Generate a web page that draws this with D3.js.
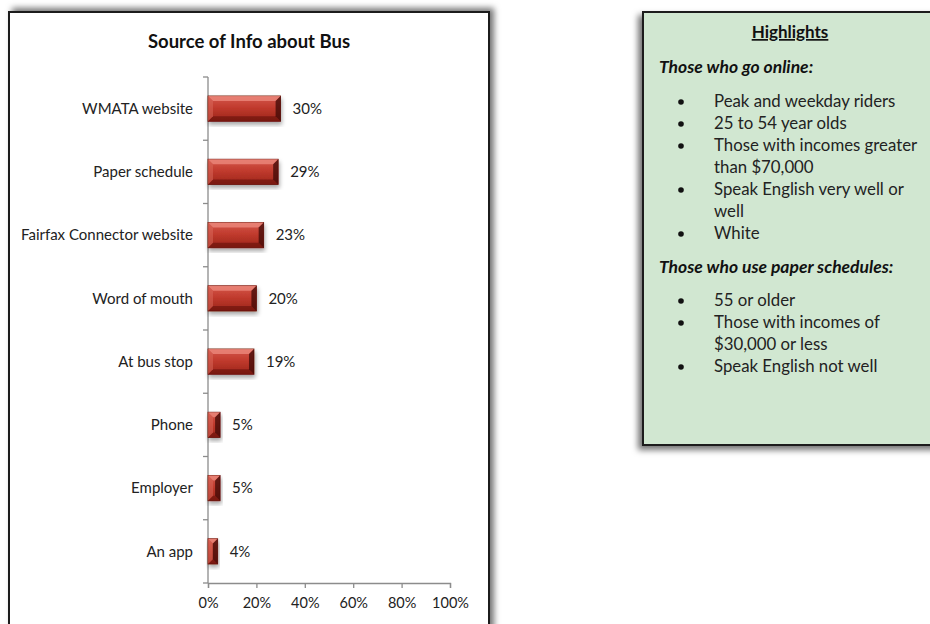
<!DOCTYPE html>
<html>
<head>
<meta charset="utf-8">
<script src="https://cdn.jsdelivr.net/npm/d3@7"></script>
<style>
  html, body { margin: 0; padding: 0; background: #fff; }
  svg { display: block; font-family: Lato, "Open Sans", sans-serif; }
</style>
</head>
<body>
<svg id="chart" width="930" height="624"></svg>
<script>
// Survey results: where riders get information about the bus
const categories = ["WMATA website", "Paper schedule", "Fairfax Connector website",
                    "Word of mouth", "At bus stop", "Phone", "Employer", "An app"];
const shares = [30, 29, 23, 20, 19, 5, 5, 4];
const xTicks = [0, 20, 40, 60, 80, 100];

const onlineNotes = ["Peak and weekday riders", "25 to 54 year olds",
                     ["Those with incomes greater", "than $70,000"],
                     ["Speak English very well or", "well"], "White"];
const paperNotes = ["55 or older", ["Those with incomes of", "$30,000 or less"],
                    "Speak English not well"];

const svg = d3.select("#chart");
const defs = svg.append("defs");

// soft shadows for the two panels and the bars
const shadow = (id, dx, dy, sd, op) => {
  const f = defs.append("filter").attr("id", id)
    .attr("x", "-20%").attr("y", "-20%").attr("width", "140%").attr("height", "140%");
  f.append("feDropShadow").attr("dx", dx).attr("dy", dy)
    .attr("stdDeviation", sd).attr("flood-color", "#000").attr("flood-opacity", op);
};
shadow("panelShadowA", 4, -3, 3, 0.55);
shadow("panelShadowB", -4, 4, 3, 0.55);
shadow("barShadow", 1, 3, 2, 0.35);

const grad = defs.append("linearGradient").attr("id", "barFill")
  .attr("x1", 0).attr("y1", 0).attr("x2", 0).attr("y2", 1);
grad.append("stop").attr("offset", "0%").attr("stop-color", "#d4574a");
grad.append("stop").attr("offset", "45%").attr("stop-color", "#c13b2e");
grad.append("stop").attr("offset", "100%").attr("stop-color", "#9c2419");

// ---- chart panel ----
svg.append("rect").attr("x", 9).attr("y", 12).attr("width", 480).attr("height", 640)
  .attr("fill", "#fff").attr("stroke", "#1a1a1a").attr("stroke-width", 2)
  .attr("filter", "url(#panelShadowA)");

svg.append("text").attr("x", 249).attr("y", 48).attr("text-anchor", "middle")
  .attr("font-size", 18.5).attr("font-weight", "bold").attr("fill", "#111")
  .text("Source of Info about Bus");

const x = d3.scaleLinear().domain([0, 100]).range([208, 450]);
const y = d3.scaleBand().domain(categories).range([77, 583])
  .paddingInner(0.6).paddingOuter(0.3);

// category axis with ticks between the bands
const gy = svg.append("g");
gy.append("line").attr("x1", x(0)).attr("x2", x(0)).attr("y1", 77).attr("y2", 583)
  .attr("stroke", "#8c8c8c").attr("stroke-width", 1.3);
const bounds = d3.range(categories.length + 1).map(i => 77 + i * y.step());
gy.selectAll("line.tk").data(bounds).join("line").attr("class", "tk")
  .attr("x1", x(0) - 5).attr("x2", x(0)).attr("y1", d => d).attr("y2", d => d)
  .attr("stroke", "#8c8c8c").attr("stroke-width", 1.3);
gy.selectAll("text").data(categories).join("text")
  .attr("x", x(0) - 15).attr("y", d => y(d) + y.bandwidth() / 2)
  .attr("dy", "0.35em").attr("text-anchor", "end")
  .attr("font-size", 15).attr("fill", "#222").text(d => d);

// value axis
const xAxis = d3.axisBottom(x).tickValues(xTicks).tickSize(5).tickFormat(d => d + "%");
const gx = svg.append("g").attr("transform", "translate(0,583)").call(xAxis);
gx.select(".domain").attr("stroke", "#8c8c8c").attr("stroke-width", 1.3);
gx.selectAll(".tick line").attr("stroke", "#8c8c8c").attr("stroke-width", 1.3);
gx.selectAll(".tick text").attr("font-size", 14.5).attr("fill", "#222")
  .attr("font-family", "Lato, sans-serif").attr("dy", "1.2em");

// bevelled bars
const bars = svg.append("g").selectAll("g").data(categories.map((c, i) => ({c, v: shares[i]})))
  .join("g");
bars.append("rect")
  .attr("x", x(0)).attr("y", d => y(d.c)).attr("width", d => x(d.v) - x(0))
  .attr("height", y.bandwidth()).attr("fill", "url(#barFill)")
  .attr("stroke", "#6d140d").attr("stroke-width", 0.8).attr("filter", "url(#barShadow)");
bars.each(function(d) {
  const g = d3.select(this);
  const x0 = x(0), x1 = x(d.v), y0 = y(d.c), y1 = y0 + y.bandwidth();
  const b = Math.min(5, (x1 - x0) / 2);
  const poly = (pts, fill, op) => g.append("polygon")
    .attr("points", pts.map(p => p.join(",")).join(" ")).attr("fill", fill).attr("opacity", op);
  poly([[x0, y0], [x1, y0], [x1 - b, y0 + b], [x0 + b, y0 + b]], "#ee8c80", 0.75);
  poly([[x0, y1], [x1, y1], [x1 - b, y1 - b], [x0 + b, y1 - b]], "#5e0f09", 0.55);
  poly([[x0, y0], [x0 + b, y0 + b], [x0 + b, y1 - b], [x0, y1]], "#d96a5c", 0.5);
  poly([[x1, y0], [x1 - b, y0 + b], [x1 - b, y1 - b], [x1, y1]], "#3d0805", 0.75);
});
bars.append("text")
  .attr("x", d => x(d.v) + 12).attr("y", d => y(d.c) + y.bandwidth() / 2)
  .attr("dy", "0.35em").attr("font-size", 15).attr("fill", "#222")
  .text(d => d.v + "%");

// ---- highlights panel ----
svg.append("rect").attr("x", 643).attr("y", 12).attr("width", 300).attr("height", 433)
  .attr("fill", "#d1e7d1").attr("stroke", "#1a1a1a").attr("stroke-width", 2)
  .attr("filter", "url(#panelShadowB)");

const hl = svg.append("g").attr("font-family", "Lato, 'Open Sans', sans-serif").attr("fill", "#111");
hl.append("text").attr("x", 790).attr("y", 38).attr("text-anchor", "middle")
  .attr("font-size", 17).attr("font-weight", "bold").attr("text-decoration", "underline")
  .text("Highlights");

function section(title, titleY, notes, firstY) {
  hl.append("text").attr("x", 659).attr("y", titleY).attr("font-size", 17.5)
    .attr("font-weight", "bold").attr("font-style", "italic").text(title);
  let yy = firstY;
  notes.forEach(n => {
    const lines = Array.isArray(n) ? n : [n];
    hl.append("circle").attr("cx", 681).attr("cy", yy - 5).attr("r", 2.8).attr("fill", "#111");
    lines.forEach(l => {
      hl.append("text").attr("x", 714).attr("y", yy).attr("font-size", 16.8)
        .attr("fill", "#222").text(l);
      yy += 22;
    });
  });
}
section("Those who go online:", 73, onlineNotes, 107);
section("Those who use paper schedules:", 273, paperNotes, 306);
</script>
</body>
</html>
